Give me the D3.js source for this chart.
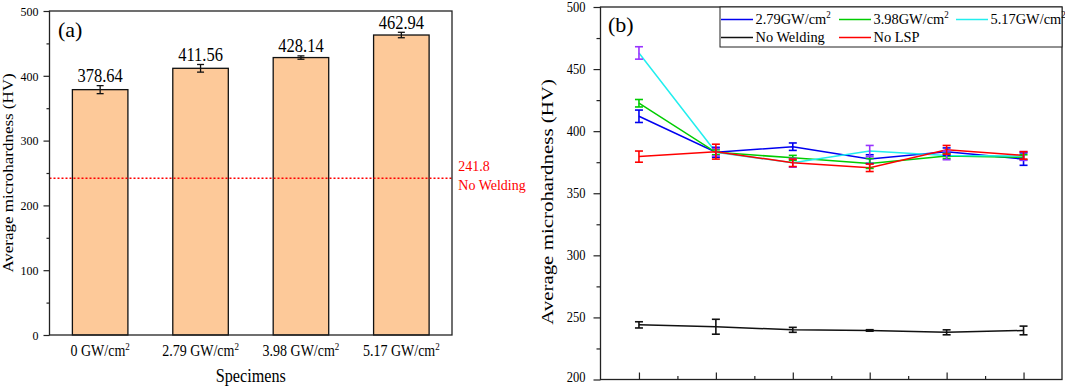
<!DOCTYPE html>
<html>
<head>
<meta charset="utf-8">
<script src="https://cdn.jsdelivr.net/npm/d3@7"></script>
<style>
  body { margin: 0; background: #fff; }
  svg { display: block; font-family: "Liberation Serif", "Times New Roman", serif; }
</style>
</head>
<body>
<div id="container"></div>
<script>
// ---- data, panel (a)
const specimens = ["0", "2.79", "3.98", "5.17"];          // GW/cm2
const barValues = [378.64, 411.56, 428.14, 462.94];
const barErrors = [6.2, 5.9, 2.6, 4.2];
const noWeldingRef = 241.8;
const leftTicks = [0, 100, 200, 300, 400, 500];
const leftMinor = [50, 150, 250, 350, 450];

// ---- data, panel (b)
const positions = [1, 2, 3, 4, 5, 6];
const hv279 = [412, 383, 387.5, 377.5, 383.5, 377.5];
const err279 = [5, 4, 3, 3.5, 3, 5];
const hv398 = [422.5, 383, 378.5, 374, 380, 379];
const err398 = [3, 2, 2, 4, 2, 2];
const hv517 = [463, 383, 374.5, 384, 380.5, 380];
const err517 = [5, 3, 3.5, 4.5, 3.5, 3.5];
const hvNoWeld = [244, 242.5, 240, 239.5, 238, 239.5];
const errNoWeld = [2.5, 6, 2, 0.6, 2, 3.5];
const hvNoLSP = [379.5, 383.5, 374.5, 370.5, 385, 380.5];
const errNoLSP = [4.5, 6, 3, 3, 3.5, 3];
const rightTicks = [200, 250, 300, 350, 400, 450, 500];
const rightMinor = [225, 275, 325, 375, 425, 475];
const posMinor = [1.5, 2.5, 3.5, 4.5, 5.5];

const series = [
    {name: "2.79GW/cm", sup: "2", vals: hv279, errs: err279, col: "#0000F0", ecol: "#0000F0"},
    {name: "3.98GW/cm", sup: "2", vals: hv398, errs: err398, col: "#00CC00", ecol: "#00CC00"},
    {name: "5.17GW/cm", sup: "2", vals: hv517, errs: err517, col: "#22EEEE", ecol: "#9933FF"},
    {name: "No Welding", sup: "", vals: hvNoWeld, errs: errNoWeld, col: "#111111", ecol: "#111111"},
    {name: "No LSP", sup: "", vals: hvNoLSP, errs: errNoLSP, col: "#FF0000", ecol: "#FF0000"}
];

const W = 1065, H = 386;
const axisCol = "#222";

const svg = d3.select("#container").append("svg")
    .attr("width", W)
    .attr("height", H);

// text with vertical stretch (the figure is a little taller than wide)
function addText(g, x, y, str, size, k, anchor, col) {
    return g.append("text")
        .attr("transform", `translate(${x},${y}) scale(1,${k})`)
        .attr("font-size", size)
        .attr("text-anchor", anchor)
        .attr("fill", col || "#000")
        .text(str);
}

function styleAxis(ax) {
    ax.attr("font-family", null).attr("font-size", null);
    ax.select(".domain").remove();
    ax.selectAll("line").attr("stroke", axisCol).attr("stroke-width", 1.2);
}

// ================= panel (a) =================
const aL = 49.5, aR = 452, aT = 11, aB = 335;

var x = d3.scaleBand()
    .domain(specimens)
    .range([aL, aR])
    .paddingInner(0.447)
    .paddingOuter(0.228);

var y = d3.scaleLinear()
    .domain([0, 500])
    .range([aB, aT]);

const pa = svg.append("g");

pa.selectAll(".bar")
    .data(barValues)
    .join("rect")
    .attr("class", "bar")
    .attr("x", (d, i) => x(specimens[i]))
    .attr("y", d => y(d))
    .attr("width", x.bandwidth())
    .attr("height", d => y(0) - y(d))
    .attr("fill", "#FDC999")
    .attr("stroke", "#111")
    .attr("stroke-width", 1.3);

// error bars
barValues.forEach(function(d, i) {
    let cx = x(specimens[i]) + x.bandwidth() / 2,
        e = barErrors[i];
    let g = pa.append("g").attr("stroke", "#111").attr("stroke-width", 1.3);
    g.append("line").attr("x1", cx).attr("x2", cx).attr("y1", y(d - e)).attr("y2", y(d + e));
    g.append("line").attr("x1", cx - 3.5).attr("x2", cx + 3.5).attr("y1", y(d - e)).attr("y2", y(d - e));
    g.append("line").attr("x1", cx - 3.5).attr("x2", cx + 3.5).attr("y1", y(d + e)).attr("y2", y(d + e));
    addText(pa, cx, y(d + e) - 3.5, d.toFixed(2), 16.5, 1.13, "middle");
});

// reference line
pa.append("line")
    .attr("x1", aL).attr("x2", aR)
    .attr("y1", y(noWeldingRef)).attr("y2", y(noWeldingRef))
    .attr("stroke", "#FF0000")
    .attr("stroke-width", 1.6)
    .attr("stroke-dasharray", "2,2");
addText(pa, aR + 6.3, y(noWeldingRef) - 7.6, String(noWeldingRef), 14, 1.05, "start", "#FF0000");
addText(pa, aR + 6.3, y(noWeldingRef) + 11.7, "No Welding", 14, 1.05, "start", "#FF0000");

// frame
pa.append("rect")
    .attr("x", aL).attr("y", aT)
    .attr("width", aR - aL).attr("height", aB - aT)
    .attr("fill", "none")
    .attr("stroke", axisCol)
    .attr("stroke-width", 1.3);

// y axis
var ya = pa.append("g")
    .attr("transform", `translate(${aL},0)`)
    .call(d3.axisLeft(y).tickValues(leftTicks).tickSize(6).tickPadding(5));
styleAxis(ya);
ya.selectAll("text")
    .attr("font-size", 12)
    .attr("fill", "#000")
    .attr("transform", "scale(1,1.12)");

var yam = pa.append("g")
    .attr("transform", `translate(${aL},0)`)
    .call(d3.axisLeft(y).tickValues(leftMinor).tickSize(3).tickFormat(""));
styleAxis(yam);

// x axis labels
var xa = pa.append("g")
    .attr("transform", `translate(0,${aB})`)
    .call(d3.axisBottom(x).tickSize(0).tickPadding(0));
styleAxis(xa);
xa.selectAll("text").each(function(d) {
    let t = d3.select(this);
    t.text(null)
        .attr("font-size", 14)
        .attr("fill", "#000")
        .attr("dy", null)
        .attr("y", 0)
        .attr("transform", "translate(0,20.5) scale(1,1.2)");
    t.append("tspan").text(d + " GW/cm");
    t.append("tspan").attr("font-size", 9).attr("dy", "-0.55em").text("2");
});

addText(pa, (aL + aR) / 2, 381.5, "Specimens", 16.2, 1.1, "middle");

pa.append("text")
    .attr("transform", `translate(13,${(aT + aB) / 2}) rotate(-90) scale(1.17,1)`)
    .attr("font-size", 14.5)
    .attr("text-anchor", "middle")
    .text("Average microhardness (HV)");

addText(pa, 58, 36.5, "(a)", 22, 1.0, "start");

// ================= panel (b) =================
const bL = 600.5, bR = 1062, bT = 7, bB = 379.5;

var x2 = d3.scaleLinear()
    .domain([0.5, 6.5])
    .range([bL, bR]);

var y2 = d3.scaleLinear()
    .domain([200, 500])
    .range([bB, bT]);

const pb = svg.append("g");

var line = d3.line()
    .x((d, i) => x2(positions[i]))
    .y(d => y2(d));

series.forEach(function(s) {
    pb.append("path")
        .datum(s.vals)
        .attr("d", line)
        .attr("fill", "none")
        .attr("stroke", s.col)
        .attr("stroke-width", 1.5);
});

series.forEach(function(s) {
    let g = pb.append("g").attr("stroke", s.ecol).attr("stroke-width", 1.6);
    s.vals.forEach(function(d, i) {
        let cx = x2(positions[i]),
            e = s.errs[i];
        g.append("line").attr("x1", cx).attr("x2", cx).attr("y1", y2(d - e)).attr("y2", y2(d + e));
        g.append("line").attr("x1", cx - 4).attr("x2", cx + 4).attr("y1", y2(d - e)).attr("y2", y2(d - e));
        g.append("line").attr("x1", cx - 4).attr("x2", cx + 4).attr("y1", y2(d + e)).attr("y2", y2(d + e));
    });
});

// frame
pb.append("rect")
    .attr("x", bL).attr("y", bT)
    .attr("width", bR - bL).attr("height", bB - bT)
    .attr("fill", "none")
    .attr("stroke", axisCol)
    .attr("stroke-width", 1.3);

var yb = pb.append("g")
    .attr("transform", `translate(${bL},0)`)
    .call(d3.axisLeft(y2).tickValues(rightTicks).tickSize(7).tickPadding(8));
styleAxis(yb);
yb.selectAll("text")
    .attr("font-size", 12.5)
    .attr("fill", "#000")
    .attr("dy", d => d === 200 ? "0.12em" : "0.3em")
    .attr("transform", "scale(1,1.15)");

var ybm = pb.append("g")
    .attr("transform", `translate(${bL},0)`)
    .call(d3.axisLeft(y2).tickValues(rightMinor).tickSize(4).tickFormat(""));
styleAxis(ybm);

// bottom ticks point inward
var xb = pb.append("g")
    .attr("transform", `translate(0,${bB})`)
    .call(d3.axisTop(x2).tickValues(positions).tickSize(7).tickFormat(""));
styleAxis(xb);
var xbm = pb.append("g")
    .attr("transform", `translate(0,${bB})`)
    .call(d3.axisTop(x2).tickValues(posMinor).tickSize(3.5).tickFormat(""));
styleAxis(xbm);

pb.append("text")
    .attr("transform", `translate(553,202) rotate(-90) scale(1.23,1)`)
    .attr("font-size", 17)
    .attr("text-anchor", "middle")
    .text("Average microhardness (HV)");

addText(pb, 608, 31.5, "(b)", 22, 1.0, "start");

// legend
const lg = pb.append("g");
lg.append("rect")
    .attr("x", 720).attr("y", bT)
    .attr("width", bR - 720).attr("height", 40)
    .attr("fill", "#fff")
    .attr("stroke", axisCol)
    .attr("stroke-width", 1);

const legX = [721, 839, 956],
      legY = [19.5, 37.5];
series.forEach(function(s, i) {
    let lx = legX[i % 3],
        ly = legY[Math.floor(i / 3)];
    lg.append("line")
        .attr("x1", lx).attr("x2", lx + 32)
        .attr("y1", ly).attr("y2", ly)
        .attr("stroke", s.col)
        .attr("stroke-width", 1.5);
    let t = addText(lg, lx + 34.5, ly + 4.6, null, 14.4, 1.08, "start");
    t.append("tspan").text(s.name);
    if (s.sup) t.append("tspan").attr("font-size", 9).attr("dy", "-0.6em").text(s.sup);
});
</script>
</body>
</html>
